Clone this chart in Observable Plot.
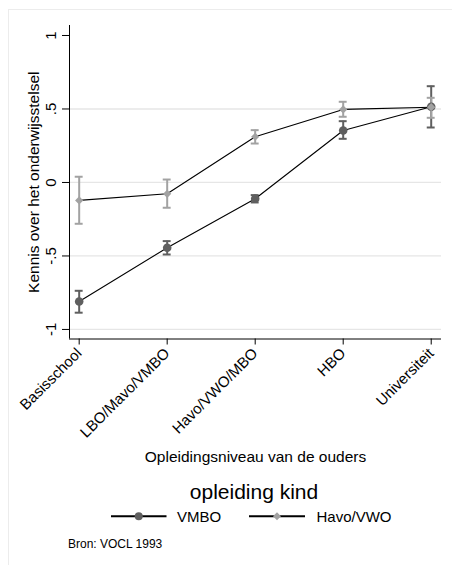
<!DOCTYPE html>
<html><head><meta charset="utf-8">
<script src="https://cdn.jsdelivr.net/npm/d3@7"></script>
<script src="https://cdn.jsdelivr.net/npm/@observablehq/plot@0.6"></script>
<style>
body{margin:0;background:#fff;font-family:"Liberation Sans",Arial,Helvetica,sans-serif;}
#wrap{position:relative;width:452px;height:565px;overflow:hidden;background:#fff;}
#border{position:absolute;left:8px;top:9px;width:470px;height:600px;border-top:1px solid #ececec;border-left:1px solid #ececec;pointer-events:none;}
#chart svg, #legend svg{display:block;}
#chart{position:absolute;left:0;top:0;}
#legend{position:absolute;left:0;top:470px;}
</style></head>
<body><div id="wrap"><div id="chart"></div><div id="legend"></div><div id="border"></div></div>
<script>
// ---- data ----
const categories = ["Basisschool", "LBO/Mavo/VMBO", "Havo/VWO/MBO", "HBO", "Universiteit"];
const series = ["VMBO", "Havo/VWO"];
const vmboMean = [-0.810, -0.444, -0.111, 0.354, 0.515];
const vmboLow  = [-0.886, -0.490, -0.136, 0.297, 0.374];
const vmboHigh = [-0.737, -0.399, -0.086, 0.417, 0.655];
const havoMean = [-0.122, -0.077, 0.311, 0.497, 0.512];
const havoLow  = [-0.281, -0.172, 0.265, 0.447, 0.440];
const havoHigh = [0.039, 0.020, 0.356, 0.549, 0.576];
const yTicks = [-1, -0.5, 0, 0.5, 1];
const yTickLabels = ["-1", "-.5", "0", ".5", "1"];
const gridValues = [-1, -0.5, 0, 0.5];
const xTitle = "Opleidingsniveau van de ouders";
const yTitle = "Kennis over het onderwijsstelsel";
const legendTitle = "opleiding kind";
const caption = "Bron: VOCL 1993";

// ---- style ----
const colors = ["#5f5f5f", "#a2a2a2"];
const xDomain = [0.89, 5.117];
const yDomain = [-1.065, 1.068];
const cap = 0.045;
const font = "Liberation Sans, Arial, Helvetica, sans-serif";

const rows = [];
categories.forEach((c, i) => {
  rows.push({x: i + 1, cat: c, series: series[0], mean: vmboMean[i], lo: vmboLow[i], hi: vmboHigh[i]});
});
categories.forEach((c, i) => {
  rows.push({x: i + 1, cat: c, series: series[1], mean: havoMean[i], lo: havoLow[i], hi: havoHigh[i]});
});

const chart = Plot.plot({
  width: 452,
  height: 470,
  marginLeft: 69,
  marginRight: 11,
  marginTop: 25,
  marginBottom: 131.5,
  style: {fontFamily: font, background: "white", color: "black"},
  x: {type: "linear", domain: xDomain},
  y: {domain: yDomain},
  color: {domain: series, range: colors},
  marks: [
    Plot.ruleY(gridValues, {stroke: "#e6e6e6", strokeWidth: 1.3}),
    Plot.ruleX([xDomain[0]], {stroke: "black", strokeWidth: 1}),
    Plot.ruleY([yDomain[0]], {stroke: "black", strokeWidth: 1}),
    Plot.axisY({ticks: yTicks, tickFormat: d => yTickLabels[yTicks.indexOf(d)], tickRotate: -90,
      tickSize: 7, tickPadding: 6.5, fontSize: 15, label: null}),
    Plot.axisX({ticks: categories.map((c, i) => i + 1), tickFormat: d => categories[d - 1],
      tickRotate: -45, tickSize: 6, fontSize: 15, label: null}),
    Plot.text([xTitle], {frameAnchor: "bottom", dy: 118.5, textAnchor: "middle", lineAnchor: "middle", fontSize: 15.5}),
    Plot.text([yTitle], {frameAnchor: "left", dx: -35, rotate: -90, textAnchor: "middle", lineAnchor: "middle", fontSize: 15.5}),
    // confidence intervals
    Plot.ruleX(rows, {x: "x", y1: "lo", y2: "hi", stroke: "series", strokeWidth: 2}),
    Plot.ruleY(rows, {y: "lo", x1: d => d.x - cap, x2: d => d.x + cap, stroke: "series", strokeWidth: 2}),
    Plot.ruleY(rows, {y: "hi", x1: d => d.x - cap, x2: d => d.x + cap, stroke: "series", strokeWidth: 2}),
    // connecting lines
    Plot.line(rows, {x: "x", y: "mean", z: "series", stroke: "black", strokeWidth: 1.1}),
    // markers
    Plot.dot(rows.filter(d => d.series === series[0]), {x: "x", y: "mean", fill: "series", r: 4.3, symbol: "circle"}),
    Plot.dot(rows.filter(d => d.series === series[1]), {x: "x", y: "mean", fill: "series", r: 3.7, symbol: "diamond2"})
  ]
});
document.getElementById("chart").appendChild(chart);

// ---- legend + caption ----
const lg = d3.select("#legend").append("svg").attr("width", 452).attr("height", 95)
  .style("font-family", font);
lg.append("text").attr("x", 254).attr("y", 29).attr("text-anchor", "middle")
  .attr("font-size", 21).text(legendTitle);
const items = [
  {x0: 111, x1: 166.5, label: 177, sym: "circle"},
  {x0: 249, x1: 305, label: 316.5, sym: "diamond2"}
];
items.forEach((it, i) => {
  const g = lg.append("g");
  g.append("line").attr("x1", it.x0).attr("x2", it.x1).attr("y1", 46.3).attr("y2", 46.3)
    .attr("stroke", "black").attr("stroke-width", 2);
  const cx = (it.x0 + it.x1) / 2;
  if (it.sym === "circle") {
    g.append("circle").attr("cx", cx).attr("cy", 46.3).attr("r", 4).attr("fill", colors[i]);
  } else {
    g.append("path").attr("transform", `translate(${cx},46.3)`)
      .attr("d", d3.symbol(d3.symbolDiamond2, 40)()).attr("fill", colors[i]);
  }
  g.append("text").attr("x", it.label).attr("y", 52).attr("font-size", 15).text(series[i]);
});
lg.append("text").attr("x", 68).attr("y", 78).attr("font-size", 12).text(caption);
</script>
</body></html>
